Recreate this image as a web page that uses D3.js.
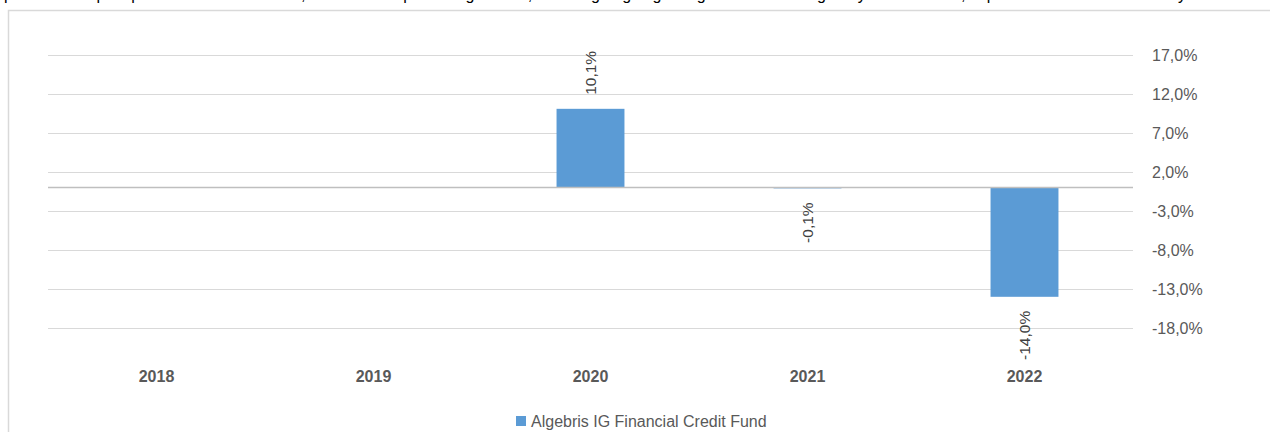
<!DOCTYPE html>
<html>
<head>
<meta charset="utf-8">
<script src="https://cdn.jsdelivr.net/npm/d3@7"></script>
<style>
  html, body { margin: 0; padding: 0; background: #fff; }
  svg { display: block; font-family: "Liberation Sans", Arial, sans-serif; }
</style>
</head>
<body>
<svg id="chart" width="1270" height="432"></svg>
<script>
const categories = ["2018", "2019", "2020", "2021", "2022"];
const values = [null, null, 10.1, -0.1, -14.0];
const tickValues = [17, 12, 7, 2, -3, -8, -13, -18];
const seriesName = "Algebris IG Financial Credit Fund";
const headerText = "presents the past performance of the fund, calculated in percentage terms, including ongoing charges and excluding entry and exit fees, expressed in its base currency";

const svg = d3.select("#chart");
const W = 1270, H = 432;
const plot = { left: 48, right: 1133, top: 55, bottom: 328 };

// header text, mostly cut off at top
svg.append("text")
  .attr("x", 4).attr("y", 0)
  .attr("font-size", 16).attr("fill", "#000")
  .text(headerText);

// outer border
svg.append("rect")
  .attr("x", 8.5).attr("y", 10.5)
  .attr("width", 1300).attr("height", 500)
  .attr("fill", "none").attr("stroke", "#d9d9d9").attr("stroke-width", 1.5);

const x = d3.scaleBand().domain(categories).range([plot.left, plot.right]).padding(0);
const y = d3.scaleLinear().domain([-18, 17]).range([plot.bottom, plot.top]);

// gridlines + right axis labels
const yAxis = d3.axisRight(y).tickValues(tickValues).tickSize(0)
  .tickFormat(d => d.toFixed(1).replace(".", ",") + "%");
const gy = svg.append("g").attr("transform", `translate(${plot.right},0)`).call(yAxis);
gy.select(".domain").remove();
gy.selectAll("text").attr("x", 19).attr("font-size", 16).attr("fill", "#595959")
  .attr("font-family", "Liberation Sans, Arial, sans-serif");

svg.append("g").selectAll("line").data(tickValues).join("line")
  .attr("x1", plot.left).attr("x2", plot.right)
  .attr("y1", d => Math.round(y(d)) + 0.5).attr("y2", d => Math.round(y(d)) + 0.5)
  .attr("stroke", "#d9d9d9").attr("stroke-width", 1.2);

// bars
const barW = x.bandwidth() * 0.313;
const data = categories.map((c, i) => ({ c, v: values[i] })).filter(d => d.v !== null);
svg.append("g").selectAll("rect").data(data).join("rect")
  .attr("x", d => x(d.c) + x.bandwidth() / 2 - barW / 2)
  .attr("width", barW)
  .attr("y", d => y(Math.max(0, d.v)))
  .attr("height", d => Math.abs(y(d.v) - y(0)))
  .attr("fill", "#5b9bd5");

// zero line
svg.append("line")
  .attr("x1", plot.left).attr("x2", plot.right)
  .attr("y1", y(0)).attr("y2", y(0))
  .attr("stroke", "#bfbfbf").attr("stroke-width", 1.5);

// data labels
svg.append("g").selectAll("text").data(data).join("text")
  .attr("transform", d => {
    const cx = x(d.c) + x.bandwidth() / 2;
    const yy = d.v >= 0 ? y(d.v) - 14 : y(d.v) + 14;
    return `translate(${cx},${yy}) rotate(-90)`;
  })
  .attr("text-anchor", d => d.v >= 0 ? "start" : "end")
  .attr("dominant-baseline", "central")
  .attr("font-size", 15.5).attr("fill", "#404040")
  .text(d => d.v.toFixed(1).replace(".", ",") + "%");

// category labels
const xAxis = d3.axisBottom(x).tickSize(0);
const gx = svg.append("g").attr("transform", `translate(0,${plot.bottom})`).call(xAxis);
gx.select(".domain").remove();
gx.selectAll("text").attr("y", 0).attr("dy", "54px")
  .attr("font-size", 16).attr("font-weight", "bold").attr("fill", "#595959")
  .attr("font-family", "Liberation Sans, Arial, sans-serif");

// legend
const lg = svg.append("g");
lg.append("rect").attr("x", 516).attr("y", 416).attr("width", 10).attr("height", 10).attr("fill", "#5b9bd5");
lg.append("text").attr("x", 531).attr("y", 421).attr("dominant-baseline", "central")
  .attr("font-size", 16).attr("fill", "#595959").text(seriesName);
</script>
</body>
</html>
